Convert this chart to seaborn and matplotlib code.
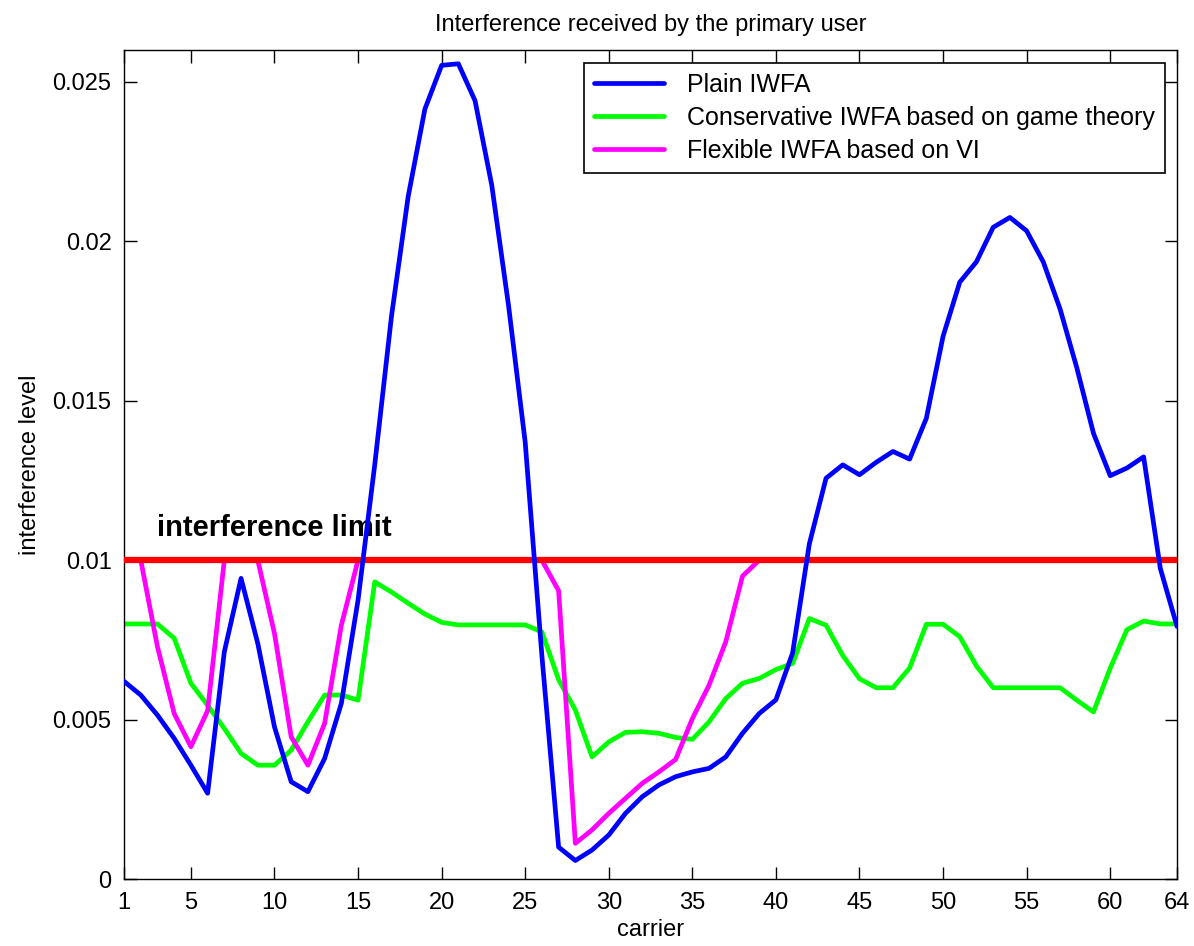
import numpy as np
import pandas as pd
import matplotlib
matplotlib.use("Agg")
import matplotlib.pyplot as plt
import seaborn as sns

carrier = list(range(1, 65))

plain_iwfa = [0.0062, 0.00577, 0.00514, 0.00441, 0.00357, 0.00269, 0.00713, 0.00943,
              0.00739, 0.00477, 0.00305, 0.00274, 0.00378, 0.00551, 0.00875, 0.0130,
              0.01765, 0.02141, 0.02415, 0.02552, 0.02557, 0.02441, 0.02176, 0.0180,
              0.0137, 0.0070, 0.00100, 0.00058, 0.00091, 0.00138, 0.00206, 0.00258,
              0.00295, 0.00321, 0.00336, 0.00347, 0.00383, 0.00457, 0.00519, 0.00562,
              0.00709, 0.01051, 0.01257, 0.01299, 0.01268, 0.01307, 0.01341, 0.01317,
              0.01445, 0.01702, 0.01872, 0.01936, 0.02044, 0.02075, 0.02033, 0.01935,
              0.01788, 0.01604, 0.01398, 0.01265, 0.01289, 0.01324, 0.00974, 0.00792]

conservative = [0.008, 0.008, 0.008, 0.00755, 0.00614, 0.00545, 0.00472, 0.00394,
                0.00357, 0.00357, 0.00404, 0.00493, 0.00577, 0.00577, 0.00561, 0.00932,
                0.00900, 0.00865, 0.00831, 0.00805, 0.00797, 0.00797, 0.00797, 0.00797,
                0.00797, 0.00775, 0.00625, 0.0053, 0.00383, 0.0043, 0.0046, 0.00462,
                0.00457, 0.00444, 0.00438, 0.00493, 0.00566, 0.00614, 0.00629, 0.00657,
                0.00676, 0.00817, 0.00796, 0.00701, 0.00628, 0.006, 0.006, 0.00662,
                0.00799, 0.00799, 0.0076, 0.00668, 0.006, 0.006, 0.006, 0.006,
                0.006, 0.00561, 0.00524, 0.00661, 0.00782, 0.00809, 0.008, 0.008]

flexible = [0.01, 0.01, 0.00728, 0.00519, 0.00415, 0.00528, 0.01, 0.01,
            0.01, 0.0077, 0.00446, 0.00357, 0.00488, 0.00796, 0.01, 0.01,
            0.01, 0.01, 0.01, 0.01, 0.01, 0.01, 0.01, 0.01,
            0.01, 0.01, 0.00904, 0.00112, 0.00154, 0.00206, 0.00253, 0.003,
            0.00336, 0.00375, 0.00503, 0.00608, 0.00744, 0.0095, 0.01, 0.01,
            0.01, 0.01, 0.01, 0.01, 0.01, 0.01, 0.01, 0.01,
            0.01, 0.01, 0.01, 0.01, 0.01, 0.01, 0.01, 0.01,
            0.01, 0.01, 0.01, 0.01, 0.01, 0.01, 0.01, 0.01]

limit = 0.01

x_ticks = [1, 5, 10, 15, 20, 25, 30, 35, 40, 45, 50, 55, 60, 64]
y_ticks = [0, 0.005, 0.01, 0.015, 0.02, 0.025]
y_tick_labels = ["0", "0.005", "0.01", "0.015", "0.02", "0.025"]

df = pd.DataFrame({"carrier": carrier, "plain": plain_iwfa,
                   "conservative": conservative, "flexible": flexible})

sns.set_style("ticks")
plt.rcParams["font.family"] = ["Liberation Sans", "DejaVu Sans"]
plt.rcParams["text.color"] = "black"
plt.rcParams["axes.labelcolor"] = "black"
plt.rcParams["xtick.color"] = "black"
plt.rcParams["ytick.color"] = "black"

fig = plt.figure(figsize=(11.94, 9.46), dpi=100)
ax = fig.add_axes([0.1039, 0.0708, 0.8819, 0.8763])

lw = 3.4
sns.lineplot(data=df, x="carrier", y="conservative", color="#00ff00", lw=lw,
             label="Conservative IWFA based on game theory", ax=ax, zorder=2)
sns.lineplot(data=df, x="carrier", y="flexible", color="#ff00ff", lw=lw,
             label="Flexible IWFA based on VI", ax=ax, zorder=3)
ax.axhline(limit, color="#ff0000", lw=4.5, zorder=4)
sns.lineplot(data=df, x="carrier", y="plain", color="#0000ff", lw=lw,
             label="Plain IWFA", ax=ax, zorder=5)

ax.text(3, 0.011, "interference limit", fontsize=21, fontweight="bold",
        va="center", ha="left", color="black")

ax.set_xlim(1, 64)
ax.set_ylim(0, 0.026)
ax.set_xticks(x_ticks)
ax.set_yticks(y_ticks)
ax.set_yticklabels(y_tick_labels)
ax.tick_params(direction="in", length=9, width=1, top=True, right=True,
               labelsize=17, color="black", labelcolor="black", pad=9)
for s in ax.spines.values():
    s.set_color("black")
    s.set_linewidth(1)

ax.set_xlabel("carrier", fontsize=17, labelpad=4)
ax.set_ylabel("interference level", fontsize=17, labelpad=8)
ax.set_title("Interference received by the primary user", fontsize=17, pad=14)

handles, labels = ax.get_legend_handles_labels()
order = [labels.index("Plain IWFA"),
         labels.index("Conservative IWFA based on game theory"),
         labels.index("Flexible IWFA based on VI")]
leg = ax.legend([handles[i] for i in order], [labels[i] for i in order],
                loc="upper right", fontsize=18, frameon=True, fancybox=False,
                edgecolor="black", framealpha=1, handlelength=2.8,
                handletextpad=0.9, borderaxespad=0.5, labelspacing=0.36,
                borderpad=0.4)
leg.get_frame().set_linewidth(1.2)

fig.savefig("out.png", dpi=100)
